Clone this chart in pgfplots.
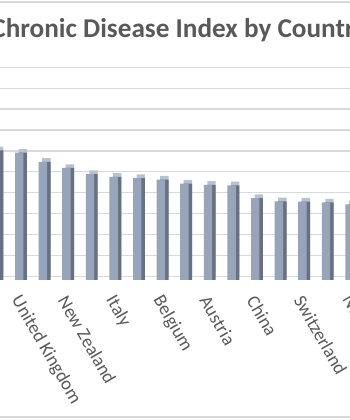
\documentclass[border=0pt]{standalone}
\usepackage{fontspec}
\setmainfont{Carlito}
\usepackage{pgfplots}
\usepackage{pgfplotstable}
\pgfplotsset{compat=1.18}
\definecolor{frontc}{HTML}{96A5BA}
\definecolor{sidec}{HTML}{667284}
\definecolor{topc}{HTML}{B8C2CF}
\definecolor{gridc}{HTML}{D9D9D9}
\definecolor{txt}{HTML}{595959}
\pgfplotstableread{
idx val
-1 6.50
0 6.20
1 6.09
2 5.65
3 5.36
4 5.07
5 4.94
6 4.88
7 4.80
8 4.61
9 4.55
10 4.53
11 3.92
12 3.76
13 3.75
14 3.71
15 3.62
}\datatable
\begin{document}
\begin{tikzpicture}[x=1bp,y=1bp]
\clip (0,0) rectangle (350,420);
\fill[white] (0,0) rectangle (350,420);
\draw[gridc, line width=1.3bp] (0,418) -- (350,418);
\draw[gridc, line width=1.3bp] (0,3) -- (350,3);
\node[font=\fontsize{27.2bp}{32bp}\selectfont\bfseries, text=txt, anchor=base] at (179.5,382.7) {Chronic Disease Index by Country};
\begin{axis}[
  x=23.6bp, y=20.9bp,
  xmin=-3, xmax=17, ymin=-0.6, ymax=10.5,
  at={(-75.2bp,131.16bp)}, anchor=south west,
  axis line style={draw=none},
  tick style={draw=none},
  ytick={0,1,...,10}, yticklabels={},
  ymajorgrids, major grid style={gridc, line width=1.3bp},
  xtick={-1,1,3,5,7,9,11,13,15},
  xticklabels={Canada,United Kingdom,New Zealand,Italy,Belgium,Austria,China,Switzerland,Norway},
  xticklabel style={xshift=-5.3bp, yshift=-5.6bp, rotate=-60, anchor=west, font=\fontsize{18.5bp}{22bp}\selectfont, text=txt},
  clip=false,
]
\addplot[ybar, bar width=8.4bp, bar shift=3.5bp, fill=topc, draw=none] table[x=idx,y=val] {\datatable};
\addplot[ybar, bar width=8.4bp, bar shift=3.5bp, yshift=-3.7bp, fill=sidec, draw=none] table[x=idx,y=val] {\datatable};
\addplot[ybar, bar width=8.4bp, bar shift=0bp, yshift=-3.7bp, fill=frontc, draw=none] table[x=idx,y=val] {\datatable};
\end{axis}
\end{tikzpicture}
\end{document}
